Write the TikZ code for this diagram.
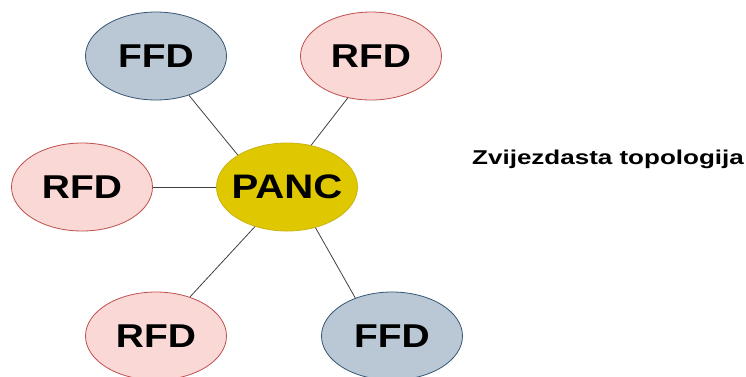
\documentclass[tikz,border=0pt]{standalone}
\usepackage{fontspec}
\usepackage{tikz}
\usetikzlibrary{shapes.geometric}
\newfontfamily\nodefont[FakeStretch=1.18]{Liberation Sans}
\newfontfamily\titlefont[FakeStretch=1.3]{Liberation Sans}
\definecolor{ffdfill}{RGB}{185,200,212}
\definecolor{ffdline}{RGB}{55,85,115}
\definecolor{rfdfill}{RGB}{249,216,213}
\definecolor{rfdline}{RGB}{192,80,77}
\definecolor{pancfill}{RGB}{224,200,0}
\definecolor{pancline}{RGB}{200,180,20}
\newcommand{\devScale}[0]{1pt}

\begin{document}
\begin{tikzpicture}[x=\devScale, y=-\devScale]
  \tikzset{device/.style={ellipse, minimum width=141pt, minimum height=88pt,
      inner sep=0pt, inner xsep=-25pt, line width=0.8pt,
      font=\nodefont\bfseries\fontsize{33}{33}\selectfont},
    ffd/.style={device, draw=ffdline, fill=ffdfill},
    rfd/.style={device, draw=rfdline, fill=rfdfill},
    link/.style={draw=black!75, line width=0.8pt}}
  \useasboundingbox (0,0) rectangle (746,376);
  \node[ffd](FFD-1) at (156,56) {FFD};
  \node[rfd](RFD-1) at (371,56) {RFD};
  \node[rfd](RFD-2) at (82,187) {RFD};
  \node[device, draw=pancline, fill=pancfill,
    font=\nodefont\bfseries\fontsize{34}{34}\selectfont](PANC) at (287,187) {PANC};
  \node[rfd](RFD-3) at (156,336) {RFD};
  \node[ffd](FFD-2) at (392,336) {FFD};
  \node[font=\titlefont\bfseries\fontsize{20}{20}\selectfont](title) at (608,159) {Zvijezdasta topologija};
  \draw[link] (FFD-1.-50) -- (PANC.147);
  \draw[link] (RFD-1.241) -- (PANC.60);
  \draw[link] (RFD-2.east) -- (PANC.west);
  \draw[link] (RFD-3.49) -- (PANC.231);
  \draw[link] (FFD-2.134) -- (PANC.-55);
\end{tikzpicture}
\end{document}
